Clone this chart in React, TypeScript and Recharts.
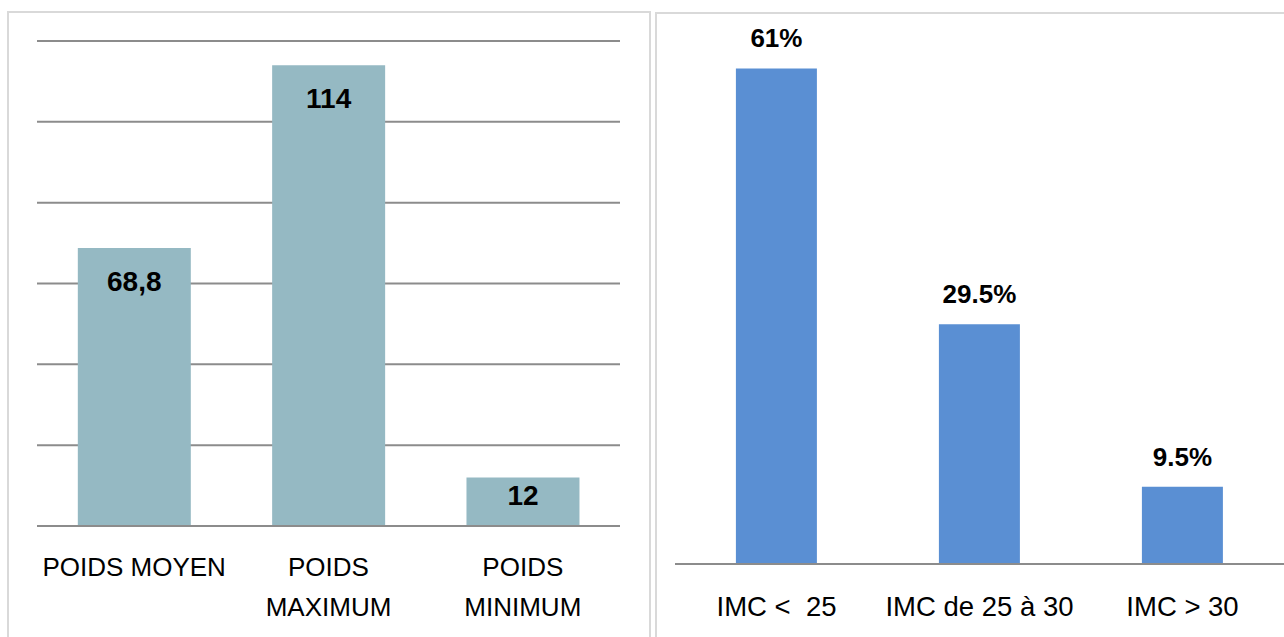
import React from 'react';
import { BarChart, Bar, XAxis, YAxis, CartesianGrid, LabelList } from 'recharts';

// Weight summary (kg)
const weightCategories = ['POIDS MOYEN', 'POIDS MAXIMUM', 'POIDS MINIMUM'];
const weightValues = [68.8, 114, 12];
const weightTickLines = [['POIDS MOYEN'], ['POIDS', 'MAXIMUM'], ['POIDS', 'MINIMUM']];
const weightTicks = [0, 20, 40, 60, 80, 100, 120];

// BMI distribution (%)
const bmiCategories = ['IMC <  25', 'IMC de 25 à 30', 'IMC > 30'];
const bmiValues = [61, 29.5, 9.5];

const weightData = weightCategories.map((name, i) => ({ name, v: weightValues[i] }));
const bmiData = bmiCategories.map((name, i) => ({ name, v: bmiValues[i] }));

const FONT = '"Liberation Sans", Arial, sans-serif';
const GRID = '#8c8c8c';
const BORDER = '#d9d9d9';

const WeightTick = (props: any) => {
  const { x, y, payload } = props;
  const idx = weightCategories.indexOf(payload.value);
  const lines = idx >= 0 ? weightTickLines[idx] : [payload.value];
  return (
    <g>
      {lines.map((line: string, i: number) => (
        <text key={i} x={x} y={y + 50 + i * 40} textAnchor="middle" fontSize={26} fill="#000" fontFamily={FONT}>
          {line}
        </text>
      ))}
    </g>
  );
};

const BmiTick = (props: any) => {
  const { x, y, payload } = props;
  return (
    <text x={x} y={y + 52} textAnchor="middle" fontSize={27.5} fill="#000" fontFamily={FONT} style={{ whiteSpace: 'pre' }}>
      {payload.value}
    </text>
  );
};

const InsideLabel = (props: any) => {
  const { x, y, width, height, value } = props;
  const center = Math.min(33, height / 2 - 7);
  return (
    <text x={x + width / 2} y={y + center + 10} textAnchor="middle" fontSize={28} fontWeight="bold" fill="#000" fontFamily={FONT}>
      {String(value).replace('.', ',')}
    </text>
  );
};

const TopLabel = (props: any) => {
  const { x, y, width, value } = props;
  return (
    <text x={x + width / 2} y={y - 21} textAnchor="middle" fontSize={26} fontWeight="bold" fill="#000" fontFamily={FONT}>
      {`${value}%`}
    </text>
  );
};

export default function App() {
  return (
    <div style={{ position: 'absolute', left: 0, top: 0, width: 1284, height: 637, background: '#fff', overflow: 'hidden' }}>
      <div style={{ position: 'absolute', left: 7, top: 11, width: 644, height: 660, border: `2px solid ${BORDER}`, boxSizing: 'border-box' }} />
      <div style={{ position: 'absolute', left: 655, top: 12, width: 660, height: 660, border: `2px solid ${BORDER}`, boxSizing: 'border-box' }} />

      <div style={{ position: 'absolute', left: 0, top: 0 }}>
        <BarChart width={650} height={637} data={weightData} margin={{ top: 41, right: 30, left: 37, bottom: 0 }} barCategoryGap="21%">
          <CartesianGrid vertical={false} stroke={GRID} strokeWidth={2} />
          <YAxis hide domain={[0, 120]} ticks={weightTicks} />
          <XAxis dataKey="name" height={111} axisLine={{ stroke: GRID, strokeWidth: 2 }} tickLine={false} tickSize={0} tickMargin={0} tick={<WeightTick />} interval={0} />
          <Bar dataKey="v" fill="#95b9c3" isAnimationActive={false}>
            <LabelList dataKey="v" content={<InsideLabel />} />
          </Bar>
        </BarChart>
      </div>

      <div style={{ position: 'absolute', left: 656, top: 0 }}>
        <BarChart width={640} height={637} data={bmiData} margin={{ top: 36, right: 12, left: 19, bottom: 0 }} barCategoryGap="30%">
          <YAxis hide domain={[0, 65]} />
          <XAxis dataKey="name" height={73} axisLine={{ stroke: GRID, strokeWidth: 2 }} tickLine={false} tickSize={0} tickMargin={0} tick={<BmiTick />} interval={0} />
          <Bar dataKey="v" fill="#5a8fd3" isAnimationActive={false}>
            <LabelList dataKey="v" content={<TopLabel />} />
          </Bar>
        </BarChart>
      </div>
    </div>
  );
}
